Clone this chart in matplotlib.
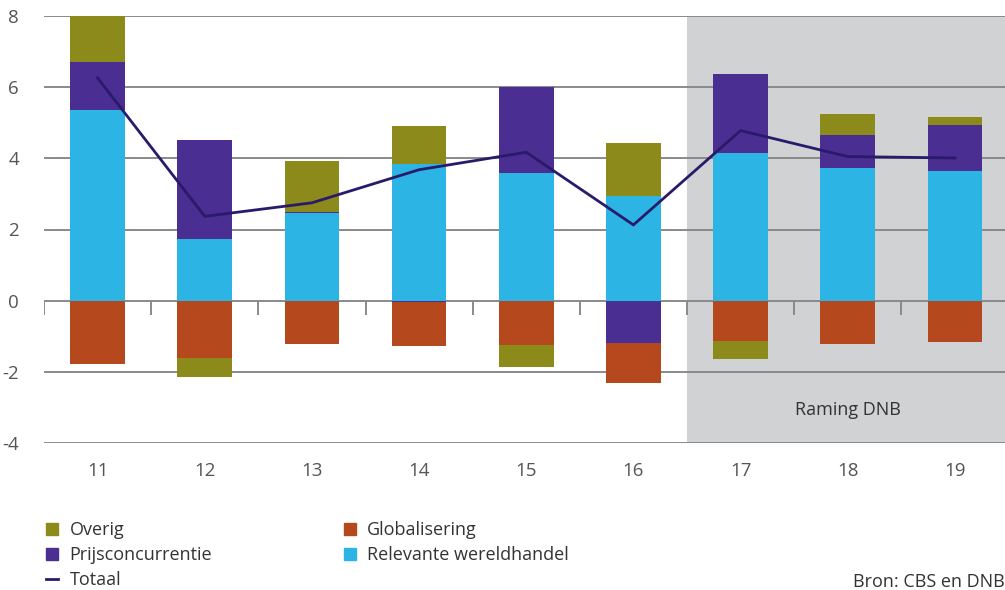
import matplotlib
matplotlib.use("Agg")
import matplotlib.pyplot as plt
import numpy as np
from matplotlib.patches import Patch
from matplotlib.lines import Line2D

plt.rcParams['font.family'] = ['Open Sans', 'DejaVu Sans']

jaren = ["11", "12", "13", "14", "15", "16", "17", "18", "19"]
relevante_wereldhandel = [5.37, 1.74, 2.45, 3.85, 3.58, 2.95, 4.16, 3.74, 3.65]
prijsconcurrentie = [1.34, 2.78, 0.03, -0.05, 2.42, -1.20, 2.22, 0.92, 1.29]
globalisering = [-1.79, -1.60, -1.23, -1.23, -1.24, -1.12, -1.14, -1.23, -1.17]
overig = [1.34, -0.55, 1.45, 1.07, -0.63, 1.49, -0.51, 0.59, 0.23]
totaal = [6.26, 2.37, 2.75, 3.68, 4.17, 2.13, 4.78, 4.05, 4.01]
raming_vanaf = "17"

c_overig = "#8c8a1b"
c_prijs = "#4a2e91"
c_glob = "#b5491d"
c_wereld = "#2cb5e4"
c_totaal = "#2a1a6b"
c_grid = "#8a8a8a"
c_text = "#555555"
c_raming = "#d1d2d4"

fig = plt.figure(figsize=(10.05, 5.9), dpi=100)
ax = fig.add_axes([44 / 1005, 147 / 590, 964.5 / 1005, 427 / 590])

x = np.arange(len(jaren))
ax.set_xlim(-0.5, len(jaren) - 0.5)
ax.set_ylim(-4, 8)

# forecast period shading
start = jaren.index(raming_vanaf) - 0.5
ax.axvspan(start, len(jaren) - 0.5, color=c_raming, zorder=0, lw=0)
ax.text((start + len(jaren) - 0.5) / 2, -3.08, "Raming DNB", ha="center", va="center",
        fontsize=13, color="#333333")

for yv in [-4, -2, 2, 4, 6, 8]:
    ax.axhline(yv, color=c_grid, lw=1.4, zorder=1)
ax.axhline(0, color=c_grid, lw=1.4, zorder=1)
ax.vlines(np.arange(-0.5, len(jaren) - 0.5, 1.0), -0.39, 0, color=c_grid, lw=1.4, zorder=1)

width = 0.51
pos = np.zeros(len(jaren))
neg = np.zeros(len(jaren))
for vals, col in [(relevante_wereldhandel, c_wereld), (prijsconcurrentie, c_prijs),
                  (globalisering, c_glob), (overig, c_overig)]:
    v = np.array(vals)
    bottom = np.where(v >= 0, pos, neg)
    ax.bar(x, v, width=width, bottom=bottom, color=col, zorder=2, lw=0)
    pos = pos + np.where(v >= 0, v, 0)
    neg = neg + np.where(v < 0, v, 0)

ax.plot(x, totaal, color=c_totaal, lw=2.0, zorder=3, solid_joinstyle="miter")

for s in ax.spines.values():
    s.set_visible(False)
ax.set_xticks(x)
ax.set_xticklabels(jaren)
ax.set_yticks([-4, -2, 0, 2, 4, 6, 8])
ax.set_yticklabels(["-4", "-2", "0", "2", "4", "6", "8"])
ax.tick_params(axis="both", length=0, labelsize=13.5, colors=c_text)
ax.tick_params(axis="x", pad=14)
ax.tick_params(axis="y", pad=18)

handles = [Patch(color=c_overig), Patch(color=c_prijs),
           Line2D([], [], color=c_totaal, lw=2),
           Patch(color=c_glob), Patch(color=c_wereld)]
labels = ["Overig", "Prijsconcurrentie", "Totaal", "Globalisering", "Relevante wereldhandel"]
leg = fig.legend(handles, labels, loc="upper left", bbox_to_anchor=(46 / 1005, 1 - 521 / 590),
                 ncol=2, frameon=False, fontsize=13, handlelength=0.65, handleheight=0.65,
                 handletextpad=0.65, columnspacing=7.3, labelspacing=0.4, borderaxespad=0,
                 borderpad=0)
for t in leg.get_texts():
    t.set_color("#333333")

fig.text(1.0, 1 - 582 / 590, "Bron: CBS en DNB", ha="right", va="center", fontsize=13, color="#333333")

fig.savefig("out.png", dpi=100)
